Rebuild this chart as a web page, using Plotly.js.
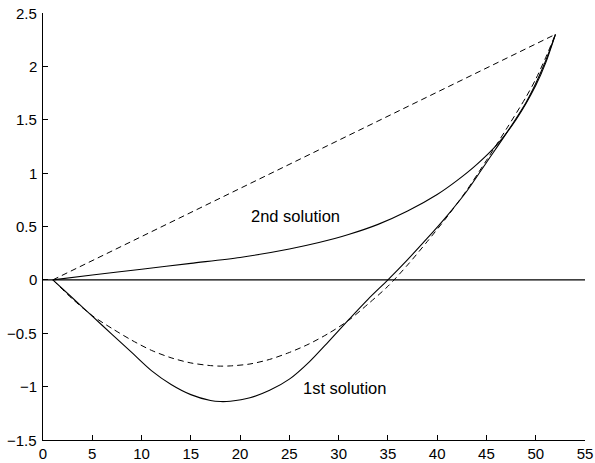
<!DOCTYPE html>
<html>
<head>
<meta charset="utf-8">
<script src="https://cdn.plot.ly/plotly-3.0.1.min.js"></script>
<style>html,body{margin:0;padding:0;background:#fff;}#chart{width:595px;height:463px;}</style>
</head>
<body>
<div id="chart"></div>
<script>
// Straight dashed chord
const chordX = [1, 52];
const chordY = [0, 2.3];

// 2nd solution (solid, upper)
const sol2X = [1, 5, 10, 15, 20, 25, 28, 31, 34, 37, 40, 42, 44, 46, 48, 50, 51, 52];
const sol2Y = [0, 0.045, 0.1, 0.155, 0.21, 0.29, 0.35, 0.425, 0.52, 0.645, 0.8, 0.93, 1.08, 1.26, 1.5, 1.82, 2.03, 2.3];

// 1st solution (solid, lower)
const sol1X = [1, 3, 5, 7, 9, 11, 13, 15, 17, 18, 19, 21, 23, 25, 27, 29, 31, 33, 35, 37, 39, 41, 43, 45, 47, 49, 50, 51, 52];
const sol1Y = [0, -0.17, -0.34, -0.51, -0.68, -0.85, -0.98, -1.075, -1.13, -1.14, -1.137, -1.105, -1.035, -0.93, -0.77, -0.575, -0.375, -0.18, 0, 0.19, 0.39, 0.6, 0.83, 1.1, 1.37, 1.66, 1.84, 2.05, 2.3];

// dashed lower curve
const dashX = [1, 3, 5, 7, 9, 11, 13, 15, 17, 18, 19, 21, 23, 25, 27, 29, 31, 33, 35, 37, 39, 41, 43, 45, 47, 49, 50, 51, 52];
const dashY = [0, -0.18, -0.335, -0.455, -0.565, -0.66, -0.73, -0.778, -0.803, -0.808, -0.806, -0.788, -0.745, -0.68, -0.6, -0.5, -0.38, -0.225, -0.06, 0.14, 0.36, 0.59, 0.84, 1.12, 1.41, 1.71, 1.88, 2.08, 2.3];

// zero line
const zeroX = [0, 55];
const zeroY = [0, 0];

const labels = ["2nd solution", "1st solution"];
const labelX = [25.65, 30.6];
const labelY = [0.6, -1.015];

const xTicks = [0, 5, 10, 15, 20, 25, 30, 35, 40, 45, 50, 55];
const yTicks = [-1.5, -1, -0.5, 0, 0.5, 1, 1.5, 2, 2.5];
const yTickText = yTicks.map(v => v < 0 ? '\u2212' + Math.abs(v) : String(v));

const solid = {color: '#000', width: 1.1};
const dashed = {color: '#000', width: 1, dash: '6px,4px'};

const traces = [
  {x: zeroX, y: zeroY, mode: 'lines', line: {color: '#000', width: 1.2}},
  {x: chordX, y: chordY, mode: 'lines', line: dashed},
  {x: dashX, y: dashY, mode: 'lines', line: Object.assign({shape: 'spline', smoothing: 0.8}, dashed)},
  {x: sol1X, y: sol1Y, mode: 'lines', line: Object.assign({shape: 'spline', smoothing: 0.8}, solid)},
  {x: sol2X, y: sol2Y, mode: 'lines', line: Object.assign({shape: 'spline', smoothing: 0.8}, solid)}
];

const textAnn = labels.map((t, i) => ({x: labelX[i], y: labelY[i], text: t, showarrow: false, font: {size: 16.5, color: '#000'}}));
const yTickAnn = yTicks.map((v, i) => ({
  xref: 'paper', x: 0, y: v, yref: 'y', text: yTickText[i], showarrow: false,
  xanchor: 'right', yanchor: 'middle', xshift: -5, borderpad: 0,
  font: {size: 15, color: '#000'}
}));

const layout = {
  width: 595, height: 463,
  margin: {l: 43, r: 10, t: 13, b: 23},
  showlegend: false,
  paper_bgcolor: '#fff', plot_bgcolor: '#fff',
  font: {family: 'Liberation Sans, Arial, sans-serif', size: 15, color: '#000'},
  xaxis: {
    range: [0, 55], tickvals: xTicks, ticktext: xTicks.map(String),
    showgrid: false, zeroline: false, showline: true, linecolor: '#000', linewidth: 1,
    ticks: 'inside', ticklen: 5, tickcolor: '#000', tickfont: {size: 15}
  },
  yaxis: {
    range: [-1.5, 2.5], tickvals: yTicks, showticklabels: false,
    showgrid: false, zeroline: false, showline: true, linecolor: '#000', linewidth: 1,
    ticks: 'inside', ticklen: 5, tickcolor: '#000'
  },
  annotations: textAnn.concat(yTickAnn)
};

Plotly.newPlot('chart', traces, layout, {staticPlot: true});
</script>
</body>
</html>
